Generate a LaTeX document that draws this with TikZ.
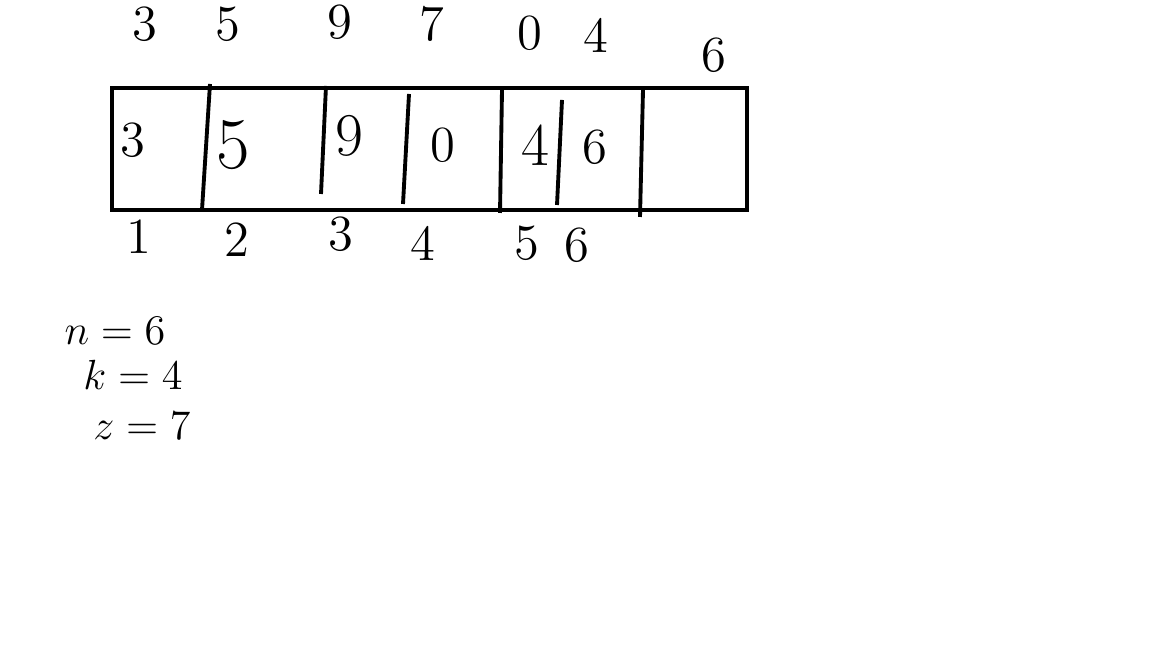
\documentclass[tikz,border=0pt]{standalone}
\usepackage{tikz}
\usetikzlibrary{positioning}
\usepackage{amsmath}

\begin{document}
\begin{tikzpicture}[%
        every node/.style={inner sep=1pt, align=center, font=\Large},
        cell/.style={font=\LARGE},
        param/.style={font=\large},
        wall/.style={line width=1.1pt},
        node distance=1.6cm, >=latex
      ]
      \useasboundingbox (0,0) rectangle (11.52,6.48);
      % the array
      \draw [wall] (1.12,5.60) rectangle (7.47,4.38);
      \draw [wall] (2.10,5.64) -- (2.02,4.38);
      \draw [wall] (3.26,5.62) -- (3.21,4.54);
      \draw [wall] (4.09,5.54) -- (4.03,4.44);
      \draw [wall] (5.02,5.58) -- (5.00,4.35);
      \draw [wall] (5.62,5.48) -- (5.57,4.43);
      \draw [wall] (6.43,5.58) -- (6.40,4.31);
      % contents
      \node [] (c1) at (1.33,5.08) {3};
      \node [] (c2) [cell, font=\huge] at (2.33,5.03) {5};
      \node [] (c3) [cell] at (3.49,5.12) {9};
      \node [] (c4) at (4.43,5.03) {0};
      \node [] (c5) [cell] at (5.35,5.03) {4};
      \node [] (c6) at (5.95,5.01) {6};
      % values above
      \node [] (t1) at (1.45,6.24) {3};
      \node [] (t2) at (2.28,6.24) {5};
      \node [] (t3) at (3.40,6.26) {9};
      \node [] (t4) at (4.32,6.24) {7};
      \node [] (t5) at (5.30,6.15) {0};
      \node [] (t6) at (5.96,6.13) {4};
      \node [] (t7) at (7.14,5.93) {6};
      % indices below
      \node [] (i1) at (1.39,4.11) {1};
      \node [] (i2) at (2.37,4.08) {2};
      \node [] (i3) at (3.41,4.14) {3};
      \node [] (i4) at (4.23,4.05) {4};
      \node [] (i5) at (5.27,4.05) {5};
      \node [] (i6) at (5.77,4.03) {6};
      % parameters
      \node [] (n) [param] at (1.15,3.17) {$n=6$};
      \node [] (k) [param] at (1.33,2.73) {$k=4$};
      \node [] (z) [param] at (1.42,2.22) {$z=7$};
    \end{tikzpicture}
\end{document}
